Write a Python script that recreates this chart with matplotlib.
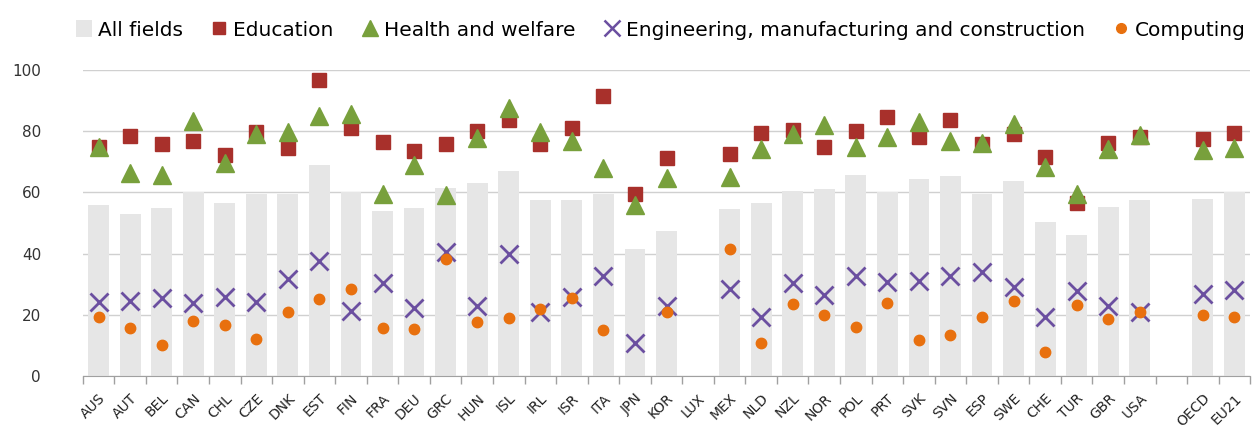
import numpy as np
import matplotlib
matplotlib.use("Agg")
import matplotlib.pyplot as plt
from matplotlib.lines import Line2D
from matplotlib.patches import Patch

nan = np.nan
categories = ["AUS", "AUT", "BEL", "CAN", "CHL", "CZE", "DNK", "EST", "FIN", "FRA",
              "DEU", "GRC", "HUN", "ISL", "IRL", "ISR", "ITA", "JPN", "KOR", "LUX",
              "MEX", "NLD", "NZL", "NOR", "POL", "PRT", "SVK", "SVN", "ESP", "SWE",
              "CHE", "TUR", "GBR", "USA", "", "OECD", "EU21"]

all_fields = [56, 53, 55, 60, 56.5, 59.5, 59.5, 69, 60, 54,
              55, 61.5, 63, 67, 57.5, 57.5, 59.5, 41.5, 47.3, nan,
              54.7, 56.5, 60.3, 61, 65.7, 60.2, 64.3, 65.4, 59.4, 63.8,
              50.4, 45.9, 55.1, 57.4, nan, 57.9, 60.2]
education = [75, 78.5, 75.7, 76.9, 72.2, 79.8, 74.6, 96.9, 81.1, 76.4,
             73.6, 75.8, 80, 83.7, 75.7, 80.9, 91.5, 59.4, 71.3, nan,
             72.6, 79.5, 80.4, 74.9, 80.1, 84.7, 78.2, 83.7, 75.7, 79.1,
             71.7, 56.4, 76.0, 78, nan, 77.3, 79.5]
health = [75, 66.4, 65.7, 83.3, 69.7, 79.1, 79.8, 85.1, 85.8, 59.5,
          69, 59.2, 77.7, 87.5, 79.8, 76.9, 67.9, 55.9, 64.8, nan,
          65.1, 74.3, 79.1, 82.0, 74.7, 78.0, 83.1, 76.9, 76.0, 82.4,
          68.4, 59.5, 74.1, 78.8, nan, 73.9, 74.4]
engineering = [24.1, 24.6, 25.4, 23.7, 25.9, 24, 31.6, 37.7, 21.3, 30.3,
               22.1, 40.6, 22.7, 40, 21, 25.9, 32.5, 10.7, 22.9, nan,
               28.3, 19.4, 30.3, 26.5, 32.7, 30.6, 31.1, 32.5, 33.8, 29.2,
               19.4, 27.9, 22.7, 21.0, nan, 26.7, 28.1]
computing = [19.4, 15.6, 10.1, 18.0, 16.7, 12.1, 20.8, 25.0, 28.3, 15.6,
             15.2, 38.2, 17.5, 18.8, 21.8, 25.4, 15, nan, 20.8, nan,
             41.6, 10.7, 23.5, 19.9, 16.1, 23.7, 11.8, 13.2, 19.1, 24.6,
             7.9, 23.2, 18.5, 20.8, nan, 19.8, 19.1]
yticks = [0, 20, 40, 60, 80, 100]

c_bar = "#E6E6E6"
c_edu = "#A8302B"
c_health = "#78A03C"
c_eng = "#6B4FA0"
c_comp = "#E8700E"
c_grid = "#D0D0D0"

fig = plt.figure(figsize=(12.54, 4.30), dpi=100)
ax = fig.add_axes([0.066, 0.126, 0.931, 0.711])

x = np.arange(len(categories))
ax.bar(x, all_fields, width=0.66, color=c_bar, zorder=1)
ax.plot(x, education, linestyle="none", marker="s", markersize=9.5,
        color=c_edu, zorder=3)
ax.plot(x, health, linestyle="none", marker="^", markersize=13.5,
        color=c_health, zorder=4)
ax.plot(x, engineering, linestyle="none", marker="x", markersize=13,
        markeredgewidth=2.0, color=c_eng, zorder=5)
ax.plot(x, computing, linestyle="none", marker="o", markersize=7.5,
        color=c_comp, zorder=6)

ax.set_xlim(-0.5, len(categories) - 0.5)
ax.set_ylim(0, 100)
ax.set_yticks(yticks)
ax.tick_params(axis="y", length=0, labelsize=11, pad=30, colors="#333333")
ax.grid(axis="y", color=c_grid, linewidth=1.0, zorder=0)
ax.set_axisbelow(True)

ax.set_xticks(x)
ax.set_xticklabels(categories, rotation=45, ha="right", rotation_mode="anchor",
                   fontsize=10, color="#222222")
ax.tick_params(axis="x", which="major", length=0, pad=11)
ax.set_xticks(np.arange(len(categories) + 1) - 0.5, minor=True)
ax.tick_params(axis="x", which="minor", length=6, color="#A0A0A0", width=1)

for s in ["top", "right", "left"]:
    ax.spines[s].set_visible(False)
ax.spines["bottom"].set_color("#A0A0A0")

handles = [
    Patch(facecolor=c_bar, edgecolor="none"),
    Line2D([], [], linestyle="none", marker="s", markersize=9, color=c_edu),
    Line2D([], [], linestyle="none", marker="^", markersize=11, color=c_health),
    Line2D([], [], linestyle="none", marker="x", markersize=11,
           markeredgewidth=1.8, color=c_eng),
    Line2D([], [], linestyle="none", marker="o", markersize=7, color=c_comp),
]
labels = ["All fields", "Education", "Health and welfare",
          "Engineering, manufacturing and construction", "Computing"]
fig.legend(handles, labels, loc="upper center", bbox_to_anchor=(0.527, 0.995),
           ncol=5, frameon=False, fontsize=14.5, handlelength=0.8,
           handletextpad=0.3, columnspacing=1.4, handleheight=0.9)

fig.savefig("out.png", dpi=100)
